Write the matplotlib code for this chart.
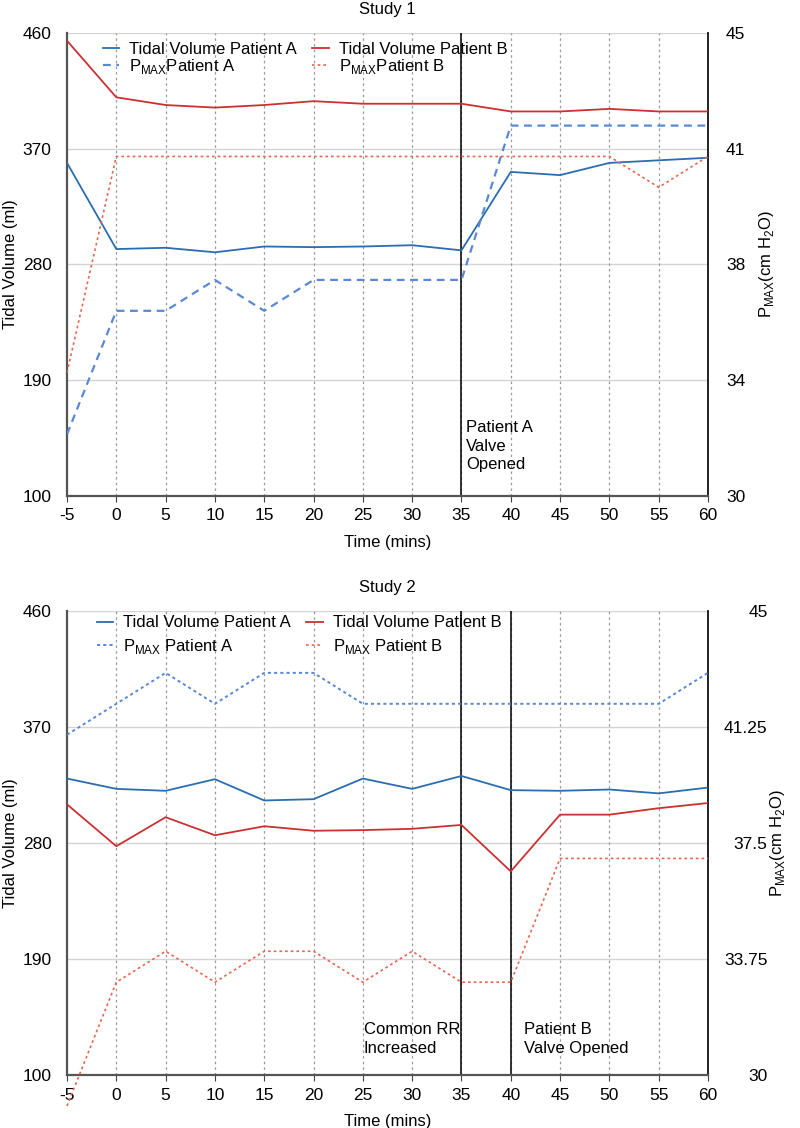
import matplotlib
matplotlib.use("Agg")
import matplotlib.pyplot as plt

plt.rcParams['font.family'] = ['Liberation Sans', 'DejaVu Sans']
plt.rcParams['axes.unicode_minus'] = False

time = [-5, 0, 5, 10, 15, 20, 25, 30, 35, 40, 45, 50, 55, 60]

# Study 1
s1_tv_a = [359, 292, 293, 289.5, 294, 293.5, 294, 295, 291, 352, 349.5, 359, 361, 363]
s1_tv_b = [454, 410, 404, 402, 404, 407, 405, 405, 405, 399, 399, 401, 399, 399]
s1_pmax_a = [32, 36, 36, 37, 36, 37, 37, 37, 37, 42, 42, 42, 42, 42]
s1_pmax_b = [34, 41, 41, 41, 41, 41, 41, 41, 41, 41, 41, 41, 40, 41]

# Study 2
s2_tv_a = [330, 322, 320.5, 329.5, 313, 314, 330, 322, 332, 321, 320.5, 321.5, 318.5, 323]
s2_tv_b = [310, 277.5, 300, 286, 293, 289.5, 290, 291, 294, 258, 302, 302, 307, 311]
s2_pmax_a = [41, 42, 43, 42, 43, 43, 42, 42, 42, 42, 42, 42, 42, 43]
s2_pmax_b = [29, 33, 34, 33, 34, 34, 33, 34, 33, 33, 37, 37, 37, 37]

tv_ticks = [100, 190, 280, 370, 460]
p_ticks = [30, 33.75, 37.5, 41.25, 45]
p_labels_1 = ['30', '34', '38', '41', '45']
p_labels_2 = ['30', '33.75', '37.5', '41.25', '45']

C_TVA = '#2a6db0'
C_TVB = '#cc3030'
C_PA = '#5a88d4'
C_PB = '#e8654f'

FS = 12.5
FL = 12

fig = plt.figure(figsize=(8, 11.28), dpi=100)

L, R = 67/800, 708/800
ax1 = fig.add_axes([L, 1-496/1128, R-L, (496-33)/1128])
ax2 = fig.add_axes([L, 1-1075/1128, R-L, (1075-611)/1128])


def setup(ax, title, plabels, rpad, rha, rlabx, events):
    ax.set_xlim(-5, 60)
    ax.set_ylim(100, 460)
    ax.set_xticks(time)
    ax.set_yticks(tv_ticks)
    ax.tick_params(axis='y', length=0, labelsize=FS, pad=11)
    ax.tick_params(axis='x', length=4, labelsize=FS, pad=5, color='#444444')
    for y in tv_ticks:
        ax.axhline(y, color='#d4d4d4', lw=1.0, zorder=0)
    for x in time[1:-1]:
        ax.axvline(x, color='#9a9a9a', lw=0.9, ls=(0, (2, 2.5)), zorder=0)
    for x in events:
        ax.axvline(x, color='#111111', lw=1.2, zorder=1)
    ax.spines['top'].set_visible(False)
    ax.spines['left'].set_color('#555555')
    ax.spines['left'].set_linewidth(1.6)
    ax.spines['bottom'].set_color('#555555')
    ax.spines['bottom'].set_linewidth(1.6)
    ax.spines['right'].set_color('#111111')
    ax.spines['right'].set_linewidth(1.3)
    ax.set_title(title, fontsize=FL, pad=14)
    ax.set_xlabel('Time (mins)', fontsize=FL, labelpad=8.5)
    ax.set_ylabel('Tidal Volume (ml)', fontsize=FL)
    ax.yaxis.set_label_coords(-0.076, 0.5)

    axr = ax.twinx()
    axr.set_ylim(30, 45)
    axr.set_yticks(p_ticks)
    axr.set_yticklabels(plabels)
    axr.tick_params(axis='y', length=0, labelsize=FS, pad=rpad)
    for t in axr.get_yticklabels():
        t.set_ha(rha)
    for s in axr.spines.values():
        s.set_visible(False)
    axr.set_ylabel('P$_{\\mathregular{MAX}}$(cm H$_{\\mathregular{2}}$O)', fontsize=FL)
    axr.yaxis.set_label_coords(rlabx, 0.5)
    return axr


# ---------- Study 1 ----------
r1 = setup(ax1, 'Study 1', p_labels_1, 13, 'left', 1.076, [35])
l1, = ax1.plot(time, s1_tv_a, color=C_TVA, lw=1.3, label='Tidal Volume Patient A', zorder=3)
l2, = ax1.plot(time, s1_tv_b, color=C_TVB, lw=1.3, label='Tidal Volume Patient B', zorder=3)
l3, = r1.plot(time, s1_pmax_a, color=C_PA, lw=1.6, ls=(0, (3.5, 2.5)),
              label='P$_{\\mathregular{MAX}}$Patient A')
l4, = r1.plot(time, s1_pmax_b, color=C_PB, lw=1.2, ls=(0, (1.6, 1.8)),
              label='P$_{\\mathregular{MAX}}$Patient B')
r1.legend([l1, l3, l2, l4], [h.get_label() for h in [l1, l3, l2, l4]],
          loc='upper left', bbox_to_anchor=(0.045, 0.996), ncol=2, frameon=False,
          fontsize=FL, handlelength=1.0, handletextpad=0.6, columnspacing=0.9,
          labelspacing=0.0, borderaxespad=0)
ax1.text(35.5, 159, 'Patient A\nValve\nOpened', fontsize=FL, ha='left', va='top',
         linespacing=1.3)

# ---------- Study 2 ----------
r2 = setup(ax2, 'Study 2', p_labels_2, 43, 'right', 1.094, [35, 40])
m1, = ax2.plot(time, s2_tv_a, color=C_TVA, lw=1.3, label='Tidal Volume Patient A', zorder=3)
m2, = ax2.plot(time, s2_tv_b, color=C_TVB, lw=1.3, label='Tidal Volume Patient B', zorder=3)
m3, = r2.plot(time, s2_pmax_a, color=C_PA, lw=1.4, ls=(0, (1.6, 1.6)),
              label='P$_{\\mathregular{MAX}}$ Patient A')
m4, = r2.plot(time, s2_pmax_b, color=C_PB, lw=1.2, ls=(0, (1.6, 1.8)),
              label='P$_{\\mathregular{MAX}}$ Patient B', clip_on=False)
r2.legend([m1, m3, m2, m4], [h.get_label() for h in [m1, m3, m2, m4]],
          loc='upper left', bbox_to_anchor=(0.036, 1.005), ncol=2, frameon=False,
          fontsize=FL, handlelength=1.0, handletextpad=0.6, columnspacing=0.9,
          labelspacing=0.4, borderaxespad=0)
ax2.text(25.1, 141, 'Common RR\nIncreased', fontsize=FL, ha='left', va='top',
         linespacing=1.3)
ax2.text(41.35, 141, 'Patient B\nValve Opened', fontsize=FL, ha='left', va='top',
         linespacing=1.3)

fig.savefig('out.png', dpi=100)
